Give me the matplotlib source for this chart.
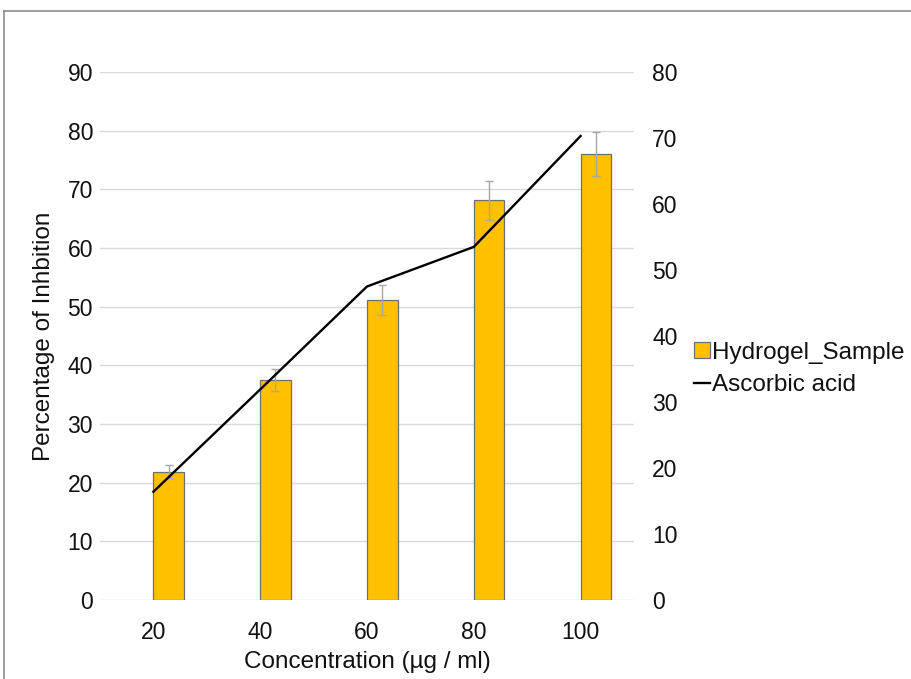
import numpy as np
import matplotlib
matplotlib.use("Agg")
import matplotlib.pyplot as plt
from matplotlib.lines import Line2D
from matplotlib.patches import Patch

plt.rcParams['font.family'] = ['Liberation Sans', 'DejaVu Sans']

# Data
concentrations = ["20", "40", "60", "80", "100"]
hydrogel = [21.9, 37.5, 51.1, 68.1, 76.1]
hydrogel_err = [1.1, 1.9, 2.6, 3.4, 3.75]
ascorbic = [16.4, 31.9, 47.5, 53.5, 70.3]

left_ticks = list(range(0, 91, 10))
right_ticks = list(range(0, 81, 10))

text_col = "#111111"
grid_col = "#d9d9d9"
tick_fs = 16.5
label_fs = 17.5

fig = plt.figure(figsize=(9.12, 6.79), dpi=100)
ax = fig.add_axes([100 / 912, 1 - 600 / 679, 534 / 912, 528 / 679])
ax2 = ax.twinx()

x = np.arange(len(concentrations))

# bars sit a little right of the category centre, as in the original
bar_x = x + 0.143
ax.bar(bar_x, hydrogel, width=0.287, color="#FFC000", edgecolor="#6f6f6f",
       linewidth=0.9, zorder=3)
ax.errorbar(bar_x, hydrogel, yerr=hydrogel_err, fmt="none", ecolor="#a6a6a6",
            elinewidth=1.0, capsize=3, capthick=1.0, zorder=4)

# line on secondary axis at category centres
ax2.plot(x, ascorbic, color="black", linewidth=1.7, zorder=5)

ax.set_xlim(-0.5, len(x) - 0.5)
ax.set_ylim(0, 90)
ax2.set_ylim(0, 80)
ax.set_yticks(left_ticks)
ax2.set_yticks(right_ticks)
ax.set_xticks(x)
ax.set_xticklabels(concentrations)

ax.yaxis.grid(True, color=grid_col, linewidth=1.0, zorder=0)
ax.set_axisbelow(True)

for a in (ax, ax2):
    for s in a.spines.values():
        s.set_visible(False)
    a.tick_params(length=0, labelsize=tick_fs, colors=text_col)

ax.tick_params(axis="y", pad=5)
ax.tick_params(axis="x", pad=15)
ax2.tick_params(axis="y", pad=13)

ax.set_ylabel("Percentage of Inhbition", fontsize=label_fs, color=text_col, labelpad=9)
ax.set_xlabel("Concentration (µg / ml)", fontsize=label_fs, color=text_col, labelpad=5)

handles = [Patch(facecolor="#FFC000", edgecolor="#6f6f6f", linewidth=0.9),
           Line2D([0], [0], color="black", linewidth=1.7)]
fig.legend(handles, ["Hydrogel_Sample", "Ascorbic acid"],
           loc="center left", bbox_to_anchor=(684 / 912, 1 - 369 / 679),
           frameon=False, fontsize=label_fs, handlelength=0.65, handleheight=0.65,
           handletextpad=0.12, labelspacing=0.45, borderaxespad=0,
           labelcolor=text_col)

# outer chart-area border (cropped on right/bottom in the original)
fig.add_artist(Line2D([4 / 912, 4 / 912], [0, 1 - 11 / 679],
                      transform=fig.transFigure, color="#8c8c8c", linewidth=1.2))
fig.add_artist(Line2D([4 / 912, 1], [1 - 11 / 679, 1 - 11 / 679],
                      transform=fig.transFigure, color="#8c8c8c", linewidth=1.2))

fig.savefig("out.png", dpi=100)
